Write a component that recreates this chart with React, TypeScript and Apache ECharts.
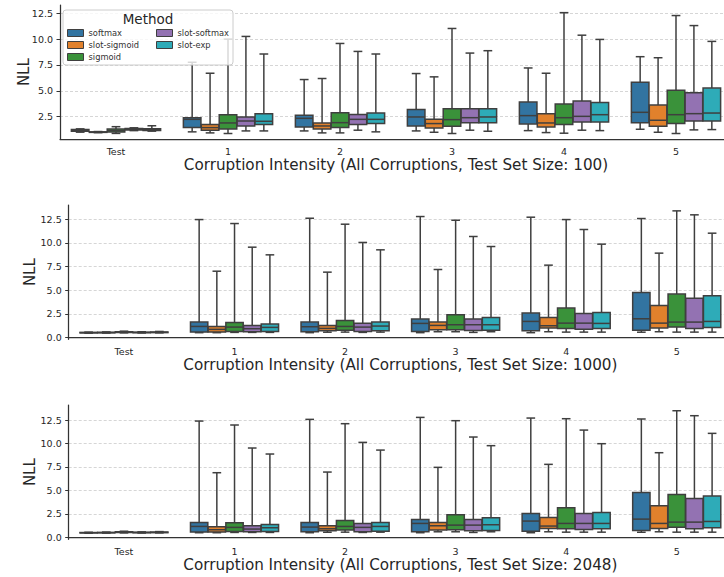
import React, { useEffect, useRef } from 'react';
import * as echarts from 'echarts';

const categories = ['Test', '1', '2', '3', '4', '5'];
const methods = ['softmax', 'slot-sigmoid', 'sigmoid', 'slot-softmax', 'slot-exp'];
const methodColors = ['#3274a1', '#e1812c', '#3a923a', '#9372b2', '#2eabb8'];
const yTicksTop = [2.5, 5, 7.5, 10, 12.5];
const yTicksLower = [0, 2.5, 5, 7.5, 10, 12.5];

// each row: [whiskerLow, q1, median, q3, whiskerHigh] per category
const p100_softmax = [
  [1.0, 1.08, 1.15, 1.25, 1.32],
  [1.03, 1.44, 2.24, 2.4, 7.76],
  [1.12, 1.5, 2.34, 2.63, 6.09],
  [1.12, 1.6, 2.47, 3.2, 6.67],
  [1.15, 1.8, 2.6, 3.91, 7.21],
  [1.28, 1.92, 2.92, 5.83, 8.3],
];
const p100_slotSigmoid = [
  [0.95, 0.98, 1.0, 1.03, 1.06],
  [0.93, 1.19, 1.44, 1.73, 6.7],
  [0.93, 1.31, 1.6, 1.89, 6.19],
  [0.99, 1.41, 1.83, 2.24, 6.35],
  [0.96, 1.51, 1.89, 2.79, 6.7],
  [0.99, 1.57, 2.15, 3.62, 8.2],
];
const p100_sigmoid = [
  [0.88, 1.02, 1.15, 1.3, 1.53],
  [0.87, 1.31, 1.89, 2.69, 10.0],
  [0.93, 1.44, 1.92, 2.88, 9.58],
  [0.87, 1.57, 2.21, 3.27, 11.03],
  [0.9, 1.73, 2.4, 3.72, 12.56],
  [0.87, 1.83, 2.69, 5.06, 12.28],
];
const p100_slotSoftmax = [
  [1.15, 1.22, 1.3, 1.36, 1.42],
  [1.12, 1.6, 2.08, 2.47, 10.26],
  [1.19, 1.73, 2.24, 2.72, 8.81],
  [1.19, 1.92, 2.4, 3.27, 8.65],
  [1.19, 1.99, 2.53, 4.01, 10.38],
  [1.22, 2.08, 2.79, 4.81, 11.31],
];
const p100_slotExp = [
  [1.1, 1.15, 1.25, 1.32, 1.62],
  [1.12, 1.73, 2.05, 2.79, 8.56],
  [1.03, 1.83, 2.24, 2.85, 8.56],
  [1.09, 1.92, 2.47, 3.27, 8.88],
  [1.15, 1.99, 2.69, 3.88, 9.97],
  [1.25, 2.08, 2.85, 5.26, 9.78],
];

const p1000_softmax = [
  [0.45, 0.48, 0.5, 0.53, 0.56],
  [0.5, 0.56, 1.16, 1.62, 12.46],
  [0.5, 0.6, 1.13, 1.62, 12.6],
  [0.5, 0.63, 1.48, 1.94, 12.78],
  [0.5, 0.7, 1.69, 2.57, 12.71],
  [0.55, 0.77, 1.97, 4.75, 12.57],
];
const p1000_slotSigmoid = [
  [0.46, 0.49, 0.51, 0.54, 0.58],
  [0.5, 0.56, 0.85, 1.16, 7.0],
  [0.55, 0.7, 0.95, 1.27, 6.9],
  [0.6, 0.81, 1.27, 1.62, 7.18],
  [0.6, 0.99, 1.23, 2.11, 7.64],
  [0.6, 0.99, 1.51, 3.38, 8.91],
];
const p1000_sigmoid = [
  [0.48, 0.52, 0.56, 0.6, 0.66],
  [0.53, 0.63, 1.09, 1.58, 12.04],
  [0.56, 0.77, 1.16, 1.8, 11.97],
  [0.6, 0.81, 1.34, 2.39, 12.39],
  [0.56, 0.95, 1.51, 3.1, 12.46],
  [0.56, 1.09, 1.62, 4.58, 13.38],
];
const p1000_slotSoftmax = [
  [0.47, 0.5, 0.52, 0.55, 0.6],
  [0.53, 0.6, 0.92, 1.27, 9.54],
  [0.53, 0.63, 1.09, 1.51, 10.04],
  [0.53, 0.74, 1.34, 1.94, 10.67],
  [0.56, 0.85, 1.51, 2.54, 11.41],
  [0.56, 0.95, 1.62, 4.15, 12.96],
];
const p1000_slotExp = [
  [0.48, 0.51, 0.54, 0.57, 0.63],
  [0.53, 0.63, 1.06, 1.41, 8.73],
  [0.56, 0.7, 1.2, 1.62, 9.26],
  [0.6, 0.77, 1.34, 2.11, 9.61],
  [0.56, 0.95, 1.48, 2.64, 9.86],
  [0.56, 1.06, 1.69, 4.4, 11.02],
];

const p2048_softmax = [
  [0.45, 0.48, 0.5, 0.52, 0.55],
  [0.5, 0.57, 1.17, 1.6, 12.39],
  [0.5, 0.6, 1.1, 1.6, 12.57],
  [0.5, 0.6, 1.49, 1.92, 12.78],
  [0.5, 0.67, 1.74, 2.56, 12.71],
  [0.55, 0.75, 1.95, 4.79, 12.61],
];
const p2048_slotSigmoid = [
  [0.46, 0.49, 0.51, 0.53, 0.57],
  [0.5, 0.57, 0.82, 1.14, 6.89],
  [0.55, 0.71, 0.92, 1.24, 6.96],
  [0.6, 0.78, 1.24, 1.6, 7.46],
  [0.6, 0.96, 1.21, 2.13, 7.78],
  [0.6, 0.96, 1.49, 3.37, 9.02],
];
const p2048_sigmoid = [
  [0.48, 0.52, 0.56, 0.6, 0.66],
  [0.53, 0.64, 1.07, 1.56, 11.97],
  [0.56, 0.78, 1.17, 1.81, 12.11],
  [0.6, 0.82, 1.31, 2.41, 12.43],
  [0.56, 0.92, 1.49, 3.16, 12.64],
  [0.56, 1.07, 1.63, 4.58, 13.49],
];
const p2048_slotSoftmax = [
  [0.47, 0.5, 0.52, 0.55, 0.59],
  [0.53, 0.6, 0.89, 1.24, 9.52],
  [0.53, 0.6, 1.07, 1.49, 10.12],
  [0.53, 0.71, 1.31, 1.92, 10.69],
  [0.56, 0.85, 1.49, 2.56, 11.43],
  [0.56, 0.92, 1.63, 4.15, 12.96],
];
const p2048_slotExp = [
  [0.48, 0.51, 0.54, 0.57, 0.62],
  [0.53, 0.64, 1.03, 1.38, 8.88],
  [0.56, 0.67, 1.17, 1.6, 9.3],
  [0.6, 0.75, 1.35, 2.1, 9.77],
  [0.56, 0.92, 1.49, 2.66, 9.98],
  [0.56, 1.03, 1.7, 4.4, 11.08],
];

const FONT = 'DejaVu Sans';
const DARK = '#262626';
const EDGE = '#3f3f3f';

const panels = [
  {
    data: [p100_softmax, p100_slotSigmoid, p100_sigmoid, p100_slotSoftmax, p100_slotExp],
    xTitle: 'Corruption Intensity (All Corruptions, Test Set Size: 100)',
    left: 60, top: 5, height: 134.3, min: 0.31, max: 13.3, ticks: yTicksTop, nameGap: 29,
  },
  {
    data: [p1000_softmax, p1000_slotSigmoid, p1000_sigmoid, p1000_slotSoftmax, p1000_slotExp],
    xTitle: 'Corruption Intensity (All Corruptions, Test Set Size: 1000)',
    left: 68.7, top: 205, height: 134.3, min: -0.2, max: 14.0, ticks: yTicksLower, nameGap: 31,
  },
  {
    data: [p2048_softmax, p2048_slotSigmoid, p2048_sigmoid, p2048_slotSoftmax, p2048_slotExp],
    xTitle: 'Corruption Intensity (All Corruptions, Test Set Size: 2048)',
    left: 68.7, top: 405, height: 134.3, min: -0.2, max: 14.1, ticks: yTicksLower, nameGap: 31,
  },
];

function makeRender(methodIdx: number) {
  const color = methodColors[methodIdx];
  return (_params: any, api: any) => {
    const cat = api.value(0);
    const band = api.size([1, 0])[0];
    const cx = api.coord([cat, 0])[0] + (-0.32 + methodIdx * 0.16) * band;
    const w = band * 0.16 * 0.98;
    const y = (v: number) => api.coord([cat, v])[1];
    const yLow = y(api.value(1));
    const yQ1 = y(api.value(2));
    const yMed = y(api.value(3));
    const yQ3 = y(api.value(4));
    const yHigh = y(api.value(5));
    const ls = { stroke: EDGE, lineWidth: 1.5 };
    return {
      type: 'group',
      children: [
        { type: 'line', shape: { x1: cx, y1: yQ3, x2: cx, y2: yHigh }, style: ls },
        { type: 'line', shape: { x1: cx, y1: yQ1, x2: cx, y2: yLow }, style: ls },
        { type: 'line', shape: { x1: cx - w / 4, y1: yHigh, x2: cx + w / 4, y2: yHigh }, style: ls },
        { type: 'line', shape: { x1: cx - w / 4, y1: yLow, x2: cx + w / 4, y2: yLow }, style: ls },
        { type: 'rect', shape: { x: cx - w / 2, y: yQ3, width: w, height: yQ1 - yQ3 }, style: { fill: color, stroke: EDGE, lineWidth: 1.5 } },
        { type: 'line', shape: { x1: cx - w / 2, y1: yMed, x2: cx + w / 2, y2: yMed }, style: ls },
      ],
    };
  };
}

function buildOption() {
  const grid: any[] = [];
  const xAxis: any[] = [];
  const yAxis: any[] = [];
  const series: any[] = [];
  panels.forEach((p, pi) => {
    grid.push({ left: p.left, top: p.top, height: p.height, right: -8, containLabel: false, outerBoundsMode: 'none' });
    xAxis.push({
      type: 'category', gridIndex: pi, data: categories, boundaryGap: true,
      name: p.xTitle, nameLocation: 'middle', nameGap: 18,
      nameTextStyle: { fontFamily: FONT, fontSize: 15.2, color: DARK },
      axisLine: { lineStyle: { color: '#333333', width: 1.25 } },
      axisTick: { alignWithLabel: true, length: 3.5, lineStyle: { color: '#333333', width: 1 } },
      axisLabel: { fontFamily: FONT, fontSize: 9.5, color: DARK, margin: 7 },
      splitLine: { show: false },
    });
    yAxis.push({
      type: 'value', gridIndex: pi, min: p.min, max: p.max,
      name: 'NLL', nameLocation: 'middle', nameGap: p.nameGap, nameRotate: 90, nameMoveOverlap: false,
      nameTextStyle: { fontFamily: FONT, fontSize: 15, color: DARK },
      axisLine: { show: true, lineStyle: { color: '#333333', width: 1.25 } },
      axisTick: { show: true, length: 3.5, customValues: p.ticks, lineStyle: { color: '#333333', width: 1 } },
      axisLabel: {
        fontFamily: FONT, fontSize: 9.5, color: DARK, margin: 7, customValues: p.ticks,
        formatter: (v: number) => v.toFixed(1),
      },
      splitLine: { show: true, lineStyle: { color: '#cccccc', type: [3, 2], width: 0.8 } },
    });
    methods.forEach((m, mi) => {
      series.push({
        type: 'custom', name: m, xAxisIndex: pi, yAxisIndex: pi,
        itemStyle: { color: methodColors[mi] },
        encode: { x: 0, y: [1, 2, 3, 4, 5] },
        data: p.data[mi].map((row, ci) => [ci, ...row]),
        renderItem: makeRender(mi),
        z: 2,
      });
    });
  });

  const legendCommon = {
    orient: 'vertical', top: 28, itemWidth: 16, itemHeight: 7, itemGap: 2, padding: 0,
    icon: 'rect', selectedMode: false, z: 20,
    textStyle: { fontFamily: FONT, fontSize: 8.3, fontWeight: 'normal', lineHeight: 10, color: '#333333' },
  };
  const legendItem = (name: string) => {
    const i = methods.indexOf(name);
    return { name, itemStyle: { color: methodColors[i], borderColor: EDGE, borderWidth: 1 } };
  };

  return {
    animation: false,
    backgroundColor: '#ffffff',
    grid, xAxis, yAxis, series,
    legend: [
      { ...legendCommon, left: 67, data: methods.slice(0, 3).map(legendItem) },
      { ...legendCommon, left: 156, data: methods.slice(3).map(legendItem) },
    ],
    graphic: [
      {
        type: 'rect', z: 15, shape: { x: 63, y: 10, width: 170, height: 55, r: 3 },
        style: { fill: 'rgba(255,255,255,0.8)', stroke: '#cccccc', lineWidth: 1 },
      },
      {
        type: 'text', z: 16, x: 148, y: 18.5,
        style: { text: 'Method', fontFamily: FONT, fontSize: 13.5, fill: DARK, align: 'center', verticalAlign: 'middle' },
      },
    ],
  };
}

export default function App() {
  const ref = useRef<HTMLDivElement>(null);
  useEffect(() => {
    if (!ref.current) return;
    const chart = echarts.init(ref.current, undefined, { renderer: 'svg' });
    chart.setOption(buildOption() as any);
    return () => chart.dispose();
  }, []);
  return (
    <div
      ref={ref}
      style={{ position: 'absolute', left: 0, top: 0, width: 724, height: 577, overflow: 'hidden', background: '#fff' }}
    />
  );
}
